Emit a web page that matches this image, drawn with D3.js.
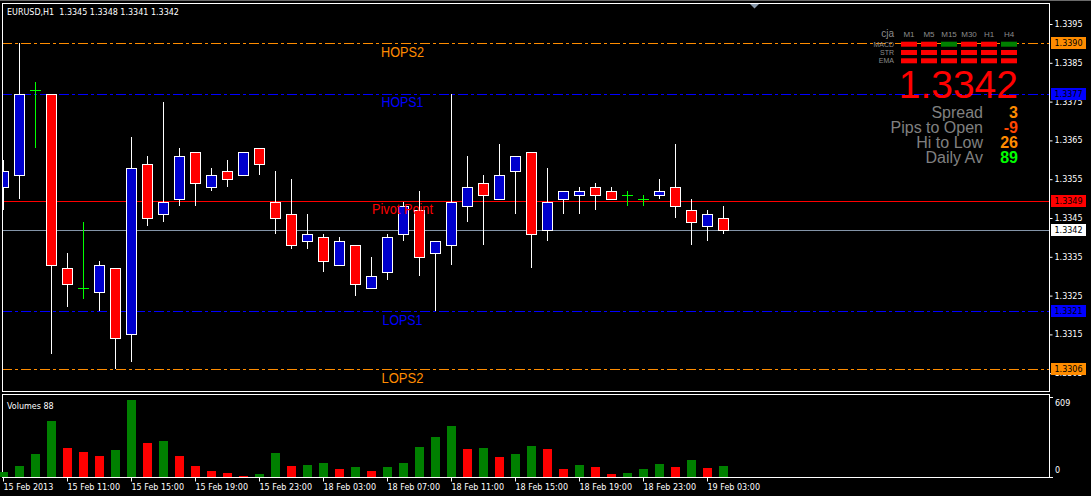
<!DOCTYPE html>
<html><head><meta charset="utf-8">
<script src="https://cdn.jsdelivr.net/npm/d3@7"></script>
<style>html,body{margin:0;padding:0;background:#000;overflow:hidden}</style>
</head><body><svg id="c" width="1091" height="496"></svg>
<script>
// ---------------- data ----------------
const times = [
 "15 Feb 07:00","15 Feb 08:00","15 Feb 09:00","15 Feb 10:00","15 Feb 11:00","15 Feb 12:00","15 Feb 13:00","15 Feb 14:00",
 "15 Feb 15:00","15 Feb 16:00","15 Feb 17:00","15 Feb 18:00","15 Feb 19:00","15 Feb 20:00","15 Feb 21:00","15 Feb 22:00",
 "15 Feb 23:00","18 Feb 00:00","18 Feb 01:00","18 Feb 02:00","18 Feb 03:00","18 Feb 04:00","18 Feb 05:00","18 Feb 06:00",
 "18 Feb 07:00","18 Feb 08:00","18 Feb 09:00","18 Feb 10:00","18 Feb 11:00","18 Feb 12:00","18 Feb 13:00","18 Feb 14:00",
 "18 Feb 15:00","18 Feb 16:00","18 Feb 17:00","18 Feb 18:00","18 Feb 19:00","18 Feb 20:00","18 Feb 21:00","18 Feb 22:00",
 "18 Feb 23:00","19 Feb 00:00","19 Feb 01:00","19 Feb 02:00","19 Feb 03:00","19 Feb 04:00"];
const open  = [1.3353,1.3356,1.3378,1.3377,1.3332,1.3327,1.3326,1.3332,1.3315,1.3359,1.3346,1.3350,1.3362,1.3353,1.3357,1.3356,
               1.3363,1.3349,1.3346,1.3339,1.3340,1.3333,1.3338,1.3327,1.3331,1.3341,1.3347,1.3336,1.3338,1.3348,1.3354,1.3350,
               1.3357,1.3362,1.3342,1.3350,1.3351,1.3353,1.3352,1.3351,1.3350,1.3351,1.3353,1.3347,1.3343,1.3345];
const high  = [1.3360,1.3390,1.3380,1.3377,1.3336,1.3344,1.3334,1.3332,1.3366,1.3361,1.3375,1.3363,1.3362,1.3358,1.3360,1.3362,
               1.3363,1.3357,1.3355,1.3346,1.3341,1.3340,1.3338,1.3335,1.3341,1.3349,1.3352,1.3339,1.3377,1.3361,1.3356,1.3364,
               1.3361,1.3362,1.3358,1.3352,1.3353,1.3354,1.3353,1.3352,1.3351,1.3355,1.3364,1.3350,1.3347,1.3348];
const low   = [1.3347,1.3350,1.3363,1.3310,1.3322,1.3324,1.3321,1.3306,1.3308,1.3343,1.3344,1.3348,1.3348,1.3352,1.3353,1.3356,
               1.3356,1.3341,1.3337,1.3337,1.3331,1.3333,1.3325,1.3327,1.3329,1.3339,1.3330,1.3321,1.3333,1.3344,1.3338,1.3350,
               1.3346,1.3332,1.3339,1.3346,1.3346,1.3347,1.3350,1.3348,1.3348,1.3350,1.3345,1.3338,1.3339,1.3341];
const close = [1.3357,1.3377,1.3378,1.3333,1.3328,1.3327,1.3333,1.3314,1.3358,1.3345,1.3349,1.3361,1.3354,1.3356,1.3355,1.3362,
               1.3359,1.3345,1.3338,1.3341,1.3334,1.3339,1.3328,1.3330,1.3340,1.3348,1.3335,1.3339,1.3349,1.3353,1.3351,1.3356,
               1.3361,1.3341,1.3349,1.3352,1.3352,1.3351,1.3350,1.3351,1.3350,1.3352,1.3348,1.3344,1.3346,1.3342];
const volumes = [40,88,184,441,232,200,168,216,609,272,288,168,88,48,32,8,24,192,88,96,112,64,80,48,80,112,240,320,401,224,
                 232,160,184,248,224,64,96,80,24,32,64,104,80,136,72,88];

const tickTimes  = ["15 Feb 07:00","15 Feb 11:00","15 Feb 15:00","15 Feb 19:00","15 Feb 23:00","18 Feb 03:00","18 Feb 07:00",
                    "18 Feb 11:00","18 Feb 15:00","18 Feb 19:00","18 Feb 23:00","19 Feb 03:00"];
const tickLabels = ["15 Feb 2013","15 Feb 11:00","15 Feb 15:00","15 Feb 19:00","15 Feb 23:00","18 Feb 03:00","18 Feb 07:00",
                    "18 Feb 11:00","18 Feb 15:00","18 Feb 19:00","18 Feb 23:00","19 Feb 03:00"];
const priceTicks = [1.3395,1.3385,1.3375,1.3365,1.3355,1.3345,1.3335,1.3325,1.3315,1.3305];

const levelNames  = ["HOPS2","HOPS1","Pivot Point","LOPS1","LOPS2"];
const levelValues = [1.3390,1.3377,1.33495,1.3321,1.3306];
const levelLabels = ["1.3390","1.3377","1.3349","1.3321","1.3306"];
const levelColors = ["#ff8c00","#0000ff","#ff0000","#0000ff","#ff8c00"];
const levelDash   = ["10,3,3,3","10,3,3,3",null,"10,3,3,3","10,3,3,3"];
const levelTextW  = [43,42,61,40,42];
const bid = 1.3342;

const panelTF   = ["M1","M5","M15","M30","H1","H4"];
const panelRows = ["MACD","STR","EMA"];
const panelSig  = [[-1,-1,1,-1,-1,1],[-1,-1,-1,-1,-1,-1],[-1,-1,-1,-1,-1,-1]];
const statLabels = ["Spread","Pips to Open","Hi to Low","Daily Av"];
const statValues = ["3","-9","26","89"];
const statColors = ["#ff8c00","#ff4500","#ff8c00","#00ff00"];

// ---------------- drawing ----------------
const svg = d3.select("#c");
svg.append("rect").attr("width",1091).attr("height",496).attr("fill","#000");
svg.append("line").attr("x1",0).attr("x2",1091).attr("y1",0.5).attr("y2",0.5).attr("stroke","#6a6a6a");

const x  = d3.scalePoint().domain(times).range([3, 3 + 16*(times.length-1)]);
const y  = d3.scaleLinear().domain([1.3305,1.3395]).range([373.2,24]);
const yv = d3.scaleLinear().domain([0,609]).range([477,400]);
const axisFont = "DejaVu Sans";

svg.append("defs").append("clipPath").attr("id","mainclip")
  .append("rect").attr("x",3).attr("y",4).attr("width",1046).attr("height",387);

// title
svg.append("text").attr("x",7).attr("y",15).attr("fill","#fff")
  .style("font-family",axisFont).style("font-size","8px").style("white-space","pre")
  .text("EURUSD,H1  1.3345 1.3348 1.3341 1.3342");

const main = svg.append("g").attr("clip-path","url(#mainclip)");

// levels
levelValues.forEach((v,k)=>{
  const ly = Math.round(y(v)) + 0.5;
  const ln = main.append("line").attr("x1",2).attr("x2",1049).attr("y1",ly).attr("y2",ly)
    .attr("stroke",levelColors[k]).attr("stroke-width",1);
  if (levelDash[k]) ln.attr("stroke-dasharray",levelDash[k]);
});
// bid line
main.append("line").attr("x1",2).attr("x2",1049)
  .attr("y1",Math.round(y(bid))+0.5).attr("y2",Math.round(y(bid))+0.5)
  .attr("stroke","#8394a8");

// candles
times.forEach((t,i)=>{
  const cx = Math.round(x(t));
  const o = open[i], c = close[i];
  const yh = Math.round(y(high[i])), yl = Math.round(y(low[i]));
  if (o === c) {
    const yo = Math.round(y(o)) + 0.5;
    main.append("line").attr("x1",cx+0.5).attr("x2",cx+0.5).attr("y1",yh).attr("y2",yl).attr("stroke","#00ff00");
    main.append("line").attr("x1",cx-5).attr("x2",cx+6).attr("y1",yo).attr("y2",yo).attr("stroke","#00ff00");
  } else {
    main.append("line").attr("x1",cx+0.5).attr("x2",cx+0.5).attr("y1",yh).attr("y2",yl).attr("stroke","#fff");
    const yt = Math.round(y(Math.max(o,c))), yb = Math.round(y(Math.min(o,c)));
    main.append("rect").attr("x",cx-4.5).attr("y",yt+0.5).attr("width",10).attr("height",Math.max(1,yb-yt))
      .attr("fill", c > o ? "#0000cd" : "#ff0000").attr("stroke","#fff").attr("stroke-width",1);
  }
});

// level labels
levelValues.forEach((v,k)=>{
  main.append("text").attr("x",402.5).attr("y",y(v)+13.5).attr("text-anchor","middle")
    .attr("fill",levelColors[k]).style("font-family","Liberation Sans").style("font-size","15px")
    .attr("textLength",levelTextW[k]).attr("lengthAdjust","spacingAndGlyphs").text(levelNames[k]);
});

// chart-shift triangle
svg.append("path").attr("d","M750,4 L759,4 L754.5,8.5 Z").attr("fill","#8a9aac");

// panel (cja indicator)
const pg = svg.append("g").style("font-family","Liberation Sans");
pg.append("text").attr("x",894).attr("y",37).attr("text-anchor","end").attr("fill","#8c8c8c")
  .style("font-size","10px").text("cja");
panelTF.forEach((tf,j)=>{
  pg.append("text").attr("x",909+20*j).attr("y",37).attr("text-anchor","middle").attr("fill","#8c8c8c")
    .style("font-size","8px").text(tf);
});
panelRows.forEach((r,ri)=>{
  pg.append("text").attr("x",894).attr("y",46.5+8.3*ri).attr("text-anchor","end").attr("fill","#8c8c8c")
    .style("font-size","7px").text(r);
  panelSig[ri].forEach((s,j)=>{
    pg.append("rect").attr("x",901+20*j).attr("y",41.7+8.3*ri).attr("width",16).attr("height",5)
      .attr("fill", s>0 ? "#008000" : "#ff0000");
  });
});
pg.append("text").attr("x",1018).attr("y",98).attr("text-anchor","end").attr("fill","#ff0000")
  .style("font-size","39px").text(d3.format(".4f")(bid));
statLabels.forEach((s,k)=>{
  pg.append("text").attr("x",983).attr("y",118+15*k).attr("text-anchor","end").attr("fill","#808080")
    .style("font-size","16px").text(s);
  pg.append("text").attr("x",1018).attr("y",118+15*k).attr("text-anchor","end").attr("fill",statColors[k])
    .style("font-size","16px").style("font-weight","bold").text(statValues[k]);
});

// main frame
svg.append("rect").attr("x",2.5).attr("y",3.5).attr("width",1047).attr("height",388)
  .attr("fill","none").attr("stroke","#fff");

// price axis
const pa = svg.append("g").attr("transform","translate(1049.5,0)")
  .call(d3.axisRight(y).tickValues(priceTicks).tickSize(3).tickPadding(2).tickFormat(d3.format(".4f")));
pa.select(".domain").remove();
pa.selectAll("line").attr("stroke","#fff");
pa.selectAll("text").attr("fill","#fff").style("font-family",axisFont).style("font-size","8px");

// level price boxes
const boxes = levelValues.map((v,k)=>({v, lab:levelLabels[k], col:levelColors[k]}));
boxes.push({v:bid, lab:d3.format(".4f")(bid), col:"#ffffff"});
boxes.forEach(b=>{
  const by = Math.round(y(b.v));
  svg.append("rect").attr("x",1051).attr("y",by-6).attr("width",35).attr("height",12).attr("fill",b.col);
  svg.append("text").attr("x",1054.5).attr("y",by+3).attr("fill","#000")
    .style("font-family",axisFont).style("font-size","8px").text(b.lab);
});

// volume pane
svg.append("rect").attr("x",2.5).attr("y",394.5).attr("width",1047).attr("height",83)
  .attr("fill","none").attr("stroke","#fff");
const vg = svg.append("g");
times.forEach((t,i)=>{
  const cx = Math.round(x(t));
  const up = i === 0 || volumes[i] > volumes[i-1];
  const top = Math.round(yv(volumes[i]));
  vg.append("rect").attr("x",cx-4).attr("y",top).attr("width",9).attr("height",477-top)
    .attr("fill", up ? "#008000" : "#ff0000");
});
svg.append("text").attr("x",7).attr("y",409).attr("fill","#fff")
  .style("font-family",axisFont).style("font-size","8px").text("Volumes " + volumes[volumes.length-1]);
[609,0].forEach((v,k)=>{
  svg.append("line").attr("x1",1050).attr("x2",1053).attr("y1",k? 477.5 : 397.5).attr("y2",k?477.5:397.5).attr("stroke","#fff");
  svg.append("text").attr("x",1055).attr("y", k ? yv(v)-4 : yv(v)+6).attr("fill","#fff")
    .style("font-family",axisFont).style("font-size","8px").text(v);
});

// time axis
const ta = svg.append("g").attr("transform","translate(0,477.5)")
  .call(d3.axisBottom(x).tickValues(tickTimes).tickSize(4).tickPadding(3).tickFormat((d,i)=>tickLabels[i]));
ta.select(".domain").remove();
ta.selectAll("line").attr("stroke","#fff");
ta.selectAll("text").attr("fill","#fff").attr("text-anchor","start")
  .style("font-family",axisFont).style("font-size","8px");
</script>
</body></html>
